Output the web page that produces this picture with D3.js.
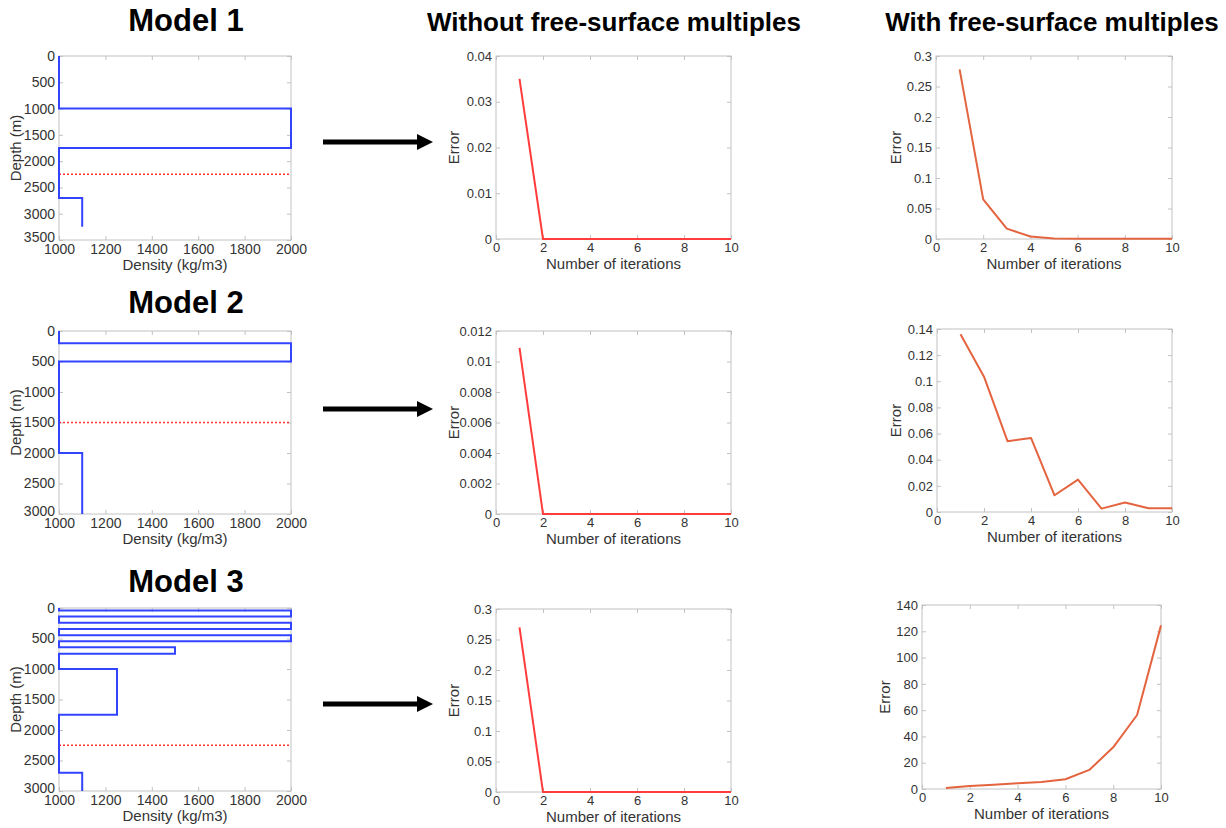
<!DOCTYPE html>
<html>
<head>
<meta charset="utf-8">
<script src="https://cdn.jsdelivr.net/npm/d3@7"></script>
<style>
  body { margin: 0; background: #fff; }
  svg { font-family: "Liberation Sans", Arial, Helvetica, sans-serif; }
  .tick text { fill: #333; font-size: 14px; }
  .err .tick text { font-size: 13px; }
  .tick line { stroke: #c2c2c2; }
  .frame { fill: none; stroke: #c2c2c2; }
  .label { fill: #333; font-size: 15px; }
  .title { font-weight: bold; font-size: 26px; fill: #000; }
  .model { font-size: 31px; }
</style>
</head>
<body>
<svg id="fig" width="1226" height="828"></svg>
<script>
// ---- data ----
const iterations = [1, 2, 3, 4, 5, 6, 7, 8, 9, 10];

// density models: layer boundaries (m) and layer densities (kg/m3)
const model1Depths = [0, 1000, 1750, 2700, 3250];
const model1Density = [1000, 2000, 1000, 1100];
const model1Target = 2250;

const model2Depths = [0, 200, 500, 2000, 3000];
const model2Density = [1000, 2000, 1000, 1100];
const model2Target = 1500;

const model3Depths = [0, 40, 140, 240, 345, 445, 545, 645, 750, 1000, 1750, 2700, 3000];
const model3Density = [1000, 2000, 1000, 2000, 1000, 2000, 1000, 1500, 1000, 1250, 1000, 1100];
const model3Target = 2250;

// error per iteration
const err1Without = [0.035, 0, 0, 0, 0, 0, 0, 0, 0, 0];
const err1With = [0.278, 0.065, 0.017, 0.004, 0.001, 0.0005, 0.0004, 0.0003, 0.0003, 0.0003];
const err2Without = [0.0109, 0, 0, 0, 0, 0, 0, 0, 0, 0];
const err2With = [0.136, 0.1035, 0.0542, 0.0567, 0.0128, 0.0248, 0.0026, 0.0072, 0.0028, 0.0028];
const err3Without = [0.27, 0, 0, 0, 0, 0, 0, 0, 0, 0];
const err3With = [0.8, 2.3, 3.3, 4.3, 5.3, 7.4, 14.5, 31.7, 56.3, 124.5];

// tick labels
const densityTicks = [1000, 1200, 1400, 1600, 1800, 2000];
const depthTicks1 = [0, 500, 1000, 1500, 2000, 2500, 3000, 3500];
const depthTicks23 = [0, 500, 1000, 1500, 2000, 2500, 3000];
const iterTicks = [0, 2, 4, 6, 8, 10];
const errTicks1a = [0, 0.01, 0.02, 0.03, 0.04];
const errTicks1b = [0, 0.05, 0.1, 0.15, 0.2, 0.25, 0.3];
const errTicks2a = [0, 0.002, 0.004, 0.006, 0.008, 0.01, 0.012];
const errTicks2b = [0, 0.02, 0.04, 0.06, 0.08, 0.1, 0.12, 0.14];
const errTicks3a = [0, 0.05, 0.1, 0.15, 0.2, 0.25, 0.3];
const errTicks3b = [0, 20, 40, 60, 80, 100, 120, 140];

const titles = ["Without free-surface multiples", "With free-surface multiples"];
const modelNames = ["Model 1", "Model 2", "Model 3"];

// ---- drawing ----
const svg = d3.select("#fig");
const fmt = d => String(+d.toFixed(4));

function frame(box, cls, xScale, yScale, xTicks, yTicks, xLabel, yLabel, yLabelX) {
    const g = svg.append("g")
        .attr("class", cls)
        .attr("transform", `translate(${box.x}, ${box.y})`);

    g.append("g")
        .attr("transform", `translate(0, ${box.h})`)
        .call(d3.axisBottom(xScale).tickValues(xTicks).tickSize(-4).tickPadding(4).tickFormat(fmt));
    g.append("g")
        .call(d3.axisTop(xScale).tickValues(xTicks).tickSize(-4).tickFormat(""));
    g.append("g")
        .call(d3.axisLeft(yScale).tickValues(yTicks).tickSize(-4).tickPadding(4).tickFormat(fmt));
    g.append("g")
        .attr("transform", `translate(${box.w}, 0)`)
        .call(d3.axisRight(yScale).tickValues(yTicks).tickSize(-4).tickFormat(""));
    g.selectAll(".domain").remove();

    // the lowest depth label sits right above the first density label
    if (cls === "dens") {
        g.selectAll(".tick text")
            .filter(d => d === yTicks[yTicks.length - 1] && yScale(d) === box.h)
            .attr("dy", "0.1em");
    }

    g.append("rect")
        .attr("class", "frame")
        .attr("width", box.w)
        .attr("height", box.h);

    g.append("text")
        .attr("class", "label")
        .attr("x", box.w / 2)
        .attr("y", box.h + 30)
        .attr("text-anchor", "middle")
        .text(xLabel);

    g.append("text")
        .attr("class", "label")
        .attr("transform", "rotate(-90)")
        .attr("x", -box.h / 2)
        .attr("y", yLabelX - box.x)
        .attr("text-anchor", "middle")
        .text(yLabel);

    return g;
}

function densityPanel(box, depths, density, target, maxDepth, depthTicks) {
    const x = d3.scaleLinear().domain([1000, 2000]).range([0, box.w]);
    const y = d3.scaleLinear().domain([0, maxDepth]).range([0, box.h]);
    const g = frame(box, "dens", x, y, densityTicks, depthTicks, "Density (kg/m3)", "Depth (m)", 21);

    const pts = [];
    density.forEach((rho, i) => {
        pts.push([rho, depths[i]]);
        pts.push([rho, depths[i + 1]]);
    });

    g.append("line")
        .attr("x1", x(1000)).attr("x2", x(2000))
        .attr("y1", y(target)).attr("y2", y(target))
        .attr("stroke", "#ff3030")
        .attr("stroke-width", 1.5)
        .attr("stroke-dasharray", "2,2");

    g.append("path")
        .datum(pts)
        .attr("fill", "none")
        .attr("stroke", "#3344ff")
        .attr("stroke-width", 2)
        .attr("d", d3.line().x(d => x(d[0])).y(d => y(d[1])));
}

function errorPanel(box, values, yTicks, colour, yLabelX) {
    const x = d3.scaleLinear().domain([0, 10]).range([0, box.w]);
    const y = d3.scaleLinear().domain([0, yTicks[yTicks.length - 1]]).range([box.h, 0]);
    const g = frame(box, "err", x, y, iterTicks, yTicks, "Number of iterations", "Error", yLabelX);

    g.append("path")
        .datum(values)
        .attr("fill", "none")
        .attr("stroke", colour)
        .attr("stroke-width", 2)
        .attr("stroke-linejoin", "round")
        .attr("d", d3.line().x((d, i) => x(iterations[i])).y(d => y(d)));
}

const red = "#ff3d3d";
const orange = "#e4643f";

densityPanel({x: 59, y: 56, w: 232, h: 184}, model1Depths, model1Density, model1Target, 3500, depthTicks1);
densityPanel({x: 59, y: 331, w: 232, h: 183}, model2Depths, model2Density, model2Target, 3000, depthTicks23);
densityPanel({x: 59, y: 608, w: 232, h: 183}, model3Depths, model3Density, model3Target, 3000, depthTicks23);

errorPanel({x: 496, y: 56, w: 235, h: 183}, err1Without, errTicks1a, red, 459);
errorPanel({x: 496, y: 331, w: 235, h: 183}, err2Without, errTicks2a, red, 459);
errorPanel({x: 496, y: 609, w: 235, h: 183}, err3Without, errTicks3a, red, 459);

errorPanel({x: 936, y: 56, w: 236, h: 183}, err1With, errTicks1b, orange, 901);
errorPanel({x: 937, y: 329, w: 235, h: 183}, err2With, errTicks2b, orange, 901);
errorPanel({x: 922, y: 605, w: 239, h: 184}, err3With, errTicks3b, orange, 890);

// titles
[31, 313, 592].forEach((yy, i) => {
    svg.append("text").attr("class", "title model")
        .attr("x", 186).attr("y", yy)
        .attr("text-anchor", "middle")
        .text(modelNames[i]);
});
svg.append("text").attr("class", "title").attr("x", 614).attr("y", 31).attr("text-anchor", "middle").text(titles[0]);
svg.append("text").attr("class", "title").attr("x", 1052).attr("y", 31).attr("text-anchor", "middle").text(titles[1]);

// arrows between the model and the results
[142, 409, 704].forEach(yy => {
    svg.append("line")
        .attr("x1", 323).attr("x2", 419)
        .attr("y1", yy).attr("y2", yy)
        .attr("stroke", "#000")
        .attr("stroke-width", 5);
    svg.append("path")
        .attr("d", `M${417},${yy - 8} L${433},${yy} L${417},${yy + 8} Z`)
        .attr("fill", "#000");
});
</script>
</body>
</html>
